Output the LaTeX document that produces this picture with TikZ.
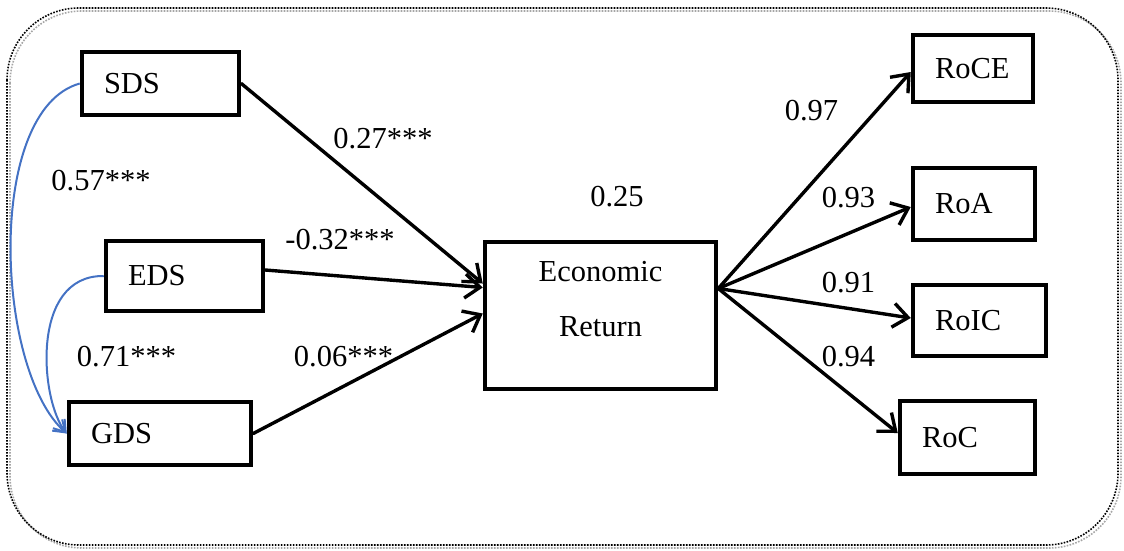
\documentclass[tikz,border=0pt]{standalone}
\usepackage{fontspec}
\setmainfont{Liberation Serif}
\usetikzlibrary{arrows.meta,calc}
\definecolor{corrblue}{HTML}{4472C4}
\begin{document}
\begin{tikzpicture}[x=1pt,y=-1pt,
  txt/.style={font=\fontsize{30.5}{36}\selectfont},
  box/.style={txt, draw, line width=4.5pt, rectangle, inner xsep=22pt, inner ysep=0pt, align=left},
  coef/.style={txt, inner sep=0pt},
  pathline/.style={line width=3.4pt, line cap=round,
    -{Straight Barb[length=15pt,width=24pt,line width=3.4pt]}},
  corr/.style={line width=2pt, draw=corrblue,
    -{Straight Barb[length=11pt,width=15pt,line width=2pt]}},
  frameline/.style={line width=1.6pt, dash pattern=on 1.6pt off 1.4pt, rounded corners=72pt}
]
\useasboundingbox (0,0) rectangle (1124,550);

% dotted frame with a light shadow
\draw[frameline, black!35] (10,11) rectangle (1121,548);
\draw[frameline, black] (7,8) rectangle (1118,545);

% exogenous constructs
\node[box, text width=113pt, minimum height=63pt] (sds) at (160.5,83.5) {SDS};
\node[box, text width=113pt, minimum height=70pt] (eds) at (184.5,276) {EDS};
\node[box, text width=138pt, minimum height=63pt] (gds) at (160,433.5) {GDS};

% endogenous construct
\node[box, minimum width=231pt, minimum height=147pt] (econ) at (600.5,315.5) {};
\node[txt, align=center, inner sep=0pt, font=\fontsize{30.5}{55}\selectfont]
  (econtext) at (600.5,299.5) {Economic\\Return};

% indicators
\node[box, text width=76pt, minimum height=67pt] (roce) at (973,68.5) {RoCE};
\node[box, text width=78pt, minimum height=72pt] (roa) at (974,204) {RoA};
\node[box, text width=89pt, minimum height=71pt] (roic) at (979.5,320.5) {RoIC};
\node[box, text width=91pt, minimum height=73pt] (roc) at (967.5,437.5) {RoC};

% structural paths
\draw[pathline] (sds.east) -- ([yshift=32pt]econ.west);
\draw[pathline] ([yshift=6pt]eds.east) -- ([yshift=28pt]econ.west);
\draw[pathline] (gds.east) -- ([yshift=2pt]econ.west);

% loadings
\coordinate (eout) at ([yshift=27pt]econ.east);
\draw[pathline] (eout) -- ([yshift=-3.5pt]roce.west);
\draw[pathline] (eout) -- ([yshift=-3pt]roa.west);
\draw[pathline] (eout) -- ([yshift=2.5pt]roic.west);
\draw[pathline] (eout) -- ([yshift=4.5pt]roc.west);

% correlations
\draw[corr] (sds.west) .. controls (-15,110) and (-5,370) .. (gds.west);
\draw[corr] (eds.west) .. controls (30,275) and (40,400) .. (gds.west);

% coefficients
\node[coef] (c57) at (101,181) {0.57***};
\node[coef] (c71) at (126.5,357) {0.71***};
\node[coef] (c27) at (383,138.5) {0.27***};
\node[coef] (c32) at (340,240) {-0.32***};
\node[coef] (c06) at (343.5,357) {0.06***};
\node[coef] (r2) at (617,197) {0.25};
\node[coef] (l97) at (811.5,110.5) {0.97};
\node[coef] (l93) at (848.5,197.5) {0.93};
\node[coef] (l91) at (848.5,283) {0.91};
\node[coef] (l94) at (848.5,357) {0.94};
\end{tikzpicture}
\end{document}
